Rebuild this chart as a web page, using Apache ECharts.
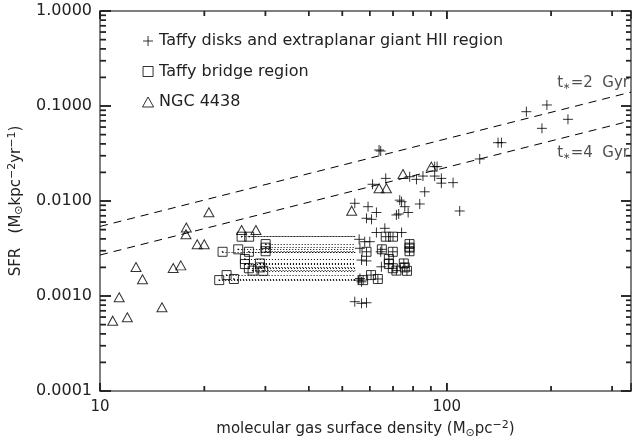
<!DOCTYPE html>
<html><head><meta charset="utf-8">
<script src="https://cdn.jsdelivr.net/npm/echarts@6/dist/echarts.min.js"></script>
<style>html,body{margin:0;padding:0;background:#fff}#c{width:635px;height:444px}</style>
</head><body><div id="c"></div>
<script>
// ---- data (Σ_gas in Msun/pc^2, SFR in Msun/kpc^2/yr) ----
const taffyDisks = [[169.7,0.0871],[194.5,0.1025],[188.2,0.0582],[223.7,0.0724],[140.6,0.0411],[143.8,0.0411],[124.5,0.0277],[63.8,0.0344],[64.5,0.0336],[66.7,0.0173],[61.1,0.0150],[78.2,0.0180],[81.8,0.0169],[85.4,0.0183],[92.3,0.0230],[93.8,0.0230],[92.3,0.0183],[96.5,0.0173],[96.5,0.0154],[104.3,0.0156],[86.4,0.0125],[73.2,0.0102],[74.1,0.00984],[75.7,0.00871],[77.4,0.00757],[71.6,0.00713],[72.7,0.00730],[83.6,0.00930],[109.0,0.00785],[54.3,0.00946],[59.3,0.00871],[62.7,0.00757],[58.7,0.00658],[60.7,0.00641],[66.3,0.00516],[62.7,0.00466],[74.1,0.00466],[55.9,0.00395],[58.0,0.00373],[60.0,0.00373],[56.2,0.00318],[64.5,0.00292],[56.8,0.00239],[58.7,0.00234],[64.8,0.00203],[56.2,0.00153],[56.8,0.00141],[55.5,0.00147],[54.3,0.000871],[56.8,0.000837],[58.7,0.000849]];
const bridgeY     = [0.00147,0.00292,0.00166,0.00151,0.00310,0.00421,0.00421,0.00292,0.00245,0.00217,0.00196,0.00185,0.00220,0.00184,0.00352,0.00296,0.00200,0.00323];
const bridgeLowX  = [22.07,22.57,23.18,24.33,25.04,25.61,26.93,26.88,26.18,26.18,26.88,27.55,28.92,29.56,30.04,30.04,29.0,30.04];
const bridgeHighX = [57.4,58.7,60.5,63.3,65.0,66.7,70.0,69.9,68.1,68.1,69.9,71.6,75.2,76.8,78.1,78.1,75.7,78.1];
const dottedEndX  = 54.5;
const ngc4438 = [[10.88,0.000550],[11.36,0.000971],[11.99,0.000597],[12.70,0.00202],[13.26,0.00150],[15.09,0.000760],[16.26,0.00197],[17.10,0.00210],[17.74,0.00526],[17.70,0.00446],[19.07,0.00351],[19.98,0.00351],[20.61,0.00760],[25.61,0.00495],[28.16,0.00495],[53.2,0.00791],[63.8,0.0136],[67.0,0.0136],[74.8,0.0192],[90.3,0.0230]];
const line2Gyr = [[10,0.0054],[340,0.14]];
const line4Gyr = [[10,0.0027],[340,0.07]];
const annotPos  = [[207.6,0.1745],[207.6,0.032]];
const annotText = ['2','4'];
const xRange = [10,340], yRange = [0.0001,1];
const xMajor = [10,100];
const xMinor = [20,30,40,50,60,70,80,90,200,300];
const yMajor = [0.0001,0.001,0.01,0.1,1];
const yMinor = [0.0002,0.0003,0.0004,0.0005,0.0006,0.0007,0.0008,0.0009,0.002,0.003,0.004,0.005,0.006,0.007,0.008,0.009,0.02,0.03,0.04,0.05,0.06,0.07,0.08,0.09,0.2,0.3,0.4,0.5,0.6,0.7,0.8,0.9];
const names = ['Taffy disks and extraplanar giant HII region','Taffy bridge region','NGC 4438'];

// ---- rendering ----
const L = v => Math.log10(v);
const P = d => [L(d[0]), L(d[1])];
const fam = 'DejaVu Sans', ink = '#000', axc = '#555', tkc = '#222', txt = '#222';
const plusPath = 'path://M0,5L10,5M5,0L5,10';
const sqPath = 'path://M0,0L10,0L10,10L0,10Z';
const sqDotPath = 'path://M0,0L10,0L10,10L0,10ZM4.6,4.6L5.4,4.6L5.4,5.4L4.6,5.4Z';
const sqCrossPath = 'path://M0,0L10,0L10,10L0,10ZM5,0L5,10M0,5L10,5';
const triPath = 'path://M5,0L10,9L0,9Z';
const hollow = {color:'transparent', borderColor:ink, borderWidth:1};

function ax(dim, pos, len, label) {
  const r = dim === 'x' ? xRange : yRange;
  const o = {type:'value', position:pos, min:L(r[0]), max:L(r[1]), interval:1,
    axisLine:{show:true, onZero:false, lineStyle:{color:axc, width:1.5}},
    axisTick:{show:true, inside:true, length:len, lineStyle:{color:tkc, width:1.5}},
    axisLabel:{show:false}, splitLine:{show:false}};
  if (label) Object.assign(o, label);
  return o;
}
const rich = {
  a:{fontSize:15, fontFamily:fam, color:txt},
  sub:{fontSize:11, fontFamily:fam, color:txt, padding:[7,0,0,0]},
  sup:{fontSize:11, fontFamily:fam, color:txt, padding:[0,0,8,0]}
};
const xLab = {
  axisLabel:{show:true, customValues:xMajor.map(L), formatter:v=>String(Math.round(Math.pow(10,v))), margin:9, fontSize:15, fontFamily:fam, color:txt},
  name:'{a|molecular gas surface density (M}{sub|⊙}{a|pc}{sup|−2}{a|)}',
  nameLocation:'middle', nameGap:29, nameTextStyle:{rich:rich}
};
const yLab = {
  axisLabel:{show:true, customValues:yMajor.map(L), formatter:v=>Math.pow(10,v).toFixed(4), margin:8, fontSize:16, fontFamily:fam, color:txt},
  name:'{a|SFR   (M}{sub|⊙}{a|kpc}{sup|−2}{a|yr}{sup|−1}{a|)}',
  nameLocation:'middle', nameRotate:90, nameGap:71, nameTextStyle:{rich:rich}
};
function tickMarks(points, size, offset) {
  return {type:'scatter', silent:true, clip:false, symbol:'rect', symbolSize:size, symbolOffset:offset,
    itemStyle:{color:tkc}, data:points, z:5};
}

const chart = echarts.init(document.getElementById('c'));
try {
chart.setOption({
  animation:false,
  backgroundColor:'#fff',
  grid:{left:100, right:4, top:11, bottom:53, outerBoundsMode:'none'},
  xAxis:[ax('x','bottom',8,xLab), ax('x','top',8)],
  yAxis:[ax('y','left',11,yLab), ax('y','right',10)],
  legend:{orient:'vertical', left:137, top:28, itemWidth:12, itemHeight:10, itemGap:14.5, selectedMode:false,
    textStyle:{fontSize:16, fontFamily:fam, color:txt},
    data:[{name:names[0], icon:plusPath, itemStyle:hollow},
          {name:names[1], icon:sqPath, itemStyle:hollow},
          {name:names[2], icon:triPath, itemStyle:hollow}]},
  series:[
    tickMarks(xMinor.map(v=>[L(v), L(yRange[0])]), [1.5,5], [0,-2.5]),
    tickMarks(xMinor.map(v=>[L(v), L(yRange[1])]), [1.5,5], [0,2.5]),
    tickMarks(yMinor.map(v=>[L(xRange[0]), L(v)]), [6,1.5], [3,0]),
    tickMarks(yMinor.map(v=>[L(xRange[1]), L(v)]), [5,1.5], [-2.5,0]),
    {type:'line', data:line2Gyr.map(P), symbol:'none', silent:true, lineStyle:{color:ink, width:1, type:[8,6]}},
    {type:'line', data:line4Gyr.map(P), symbol:'none', silent:true, lineStyle:{color:ink, width:1, type:[8,6]}},
    {type:'lines', coordinateSystem:'cartesian2d', silent:true,
      data:bridgeY.map((y,i)=>({coords:[P([bridgeLowX[i],y]), P([dottedEndX,y])]})),
      lineStyle:{color:ink, width:1, type:[1,2], opacity:1}},
    {type:'scatter', name:names[0], data:taffyDisks.map(P), symbol:plusPath, symbolSize:10, itemStyle:hollow},
    {type:'scatter', name:names[1], data:bridgeLowX.map((x,i)=>P([x,bridgeY[i]])), symbol:sqDotPath, symbolSize:9, itemStyle:hollow},
    {type:'scatter', name:names[1], data:bridgeHighX.map((x,i)=>P([x,bridgeY[i]])), symbol:sqCrossPath, symbolSize:9, itemStyle:hollow},
    {type:'scatter', name:names[2], data:ngc4438.map(P), symbol:triPath, symbolSize:[10,9], itemStyle:hollow},
    {type:'scatter', silent:true, data:annotPos.map(P), symbolSize:1, itemStyle:{color:'transparent'},
      label:{show:true, position:'right', distance:0,
        formatter:p=>'{t|t}{s|∗}{t|=' + annotText[p.dataIndex] + '  Gyr}',
        rich:{t:{fontSize:15, fontFamily:fam, color:txt}, s:{fontSize:9, fontFamily:fam, color:txt, padding:[8,0,0,0]}}}}
  ]
});
} catch (e) {}

// tick marks on all four sides, placed through the axes' own scales
try {
  const toPx = (x, y) => chart.convertToPixel({gridIndex:0}, [L(x), L(y)]);
  const eB = toPx(xRange[0], yRange[0]), eT = toPx(xRange[1], yRange[1]);
  const xl = eB[0], yb = eB[1], xr = eT[0], yt = eT[1];
  const els = [];
  const seg = (x1, y1, x2, y2) => els.push({type:'line', silent:true, z:50,
    shape:{x1:x1, y1:y1, x2:x2, y2:y2}, style:{stroke:tkc, lineWidth:1.5}});
  const cx = v => toPx(v, yRange[0])[0];
  const cy = v => toPx(xRange[0], v)[1];
  xMajor.forEach(v => { const x = cx(v); seg(x, yb, x, yb - 8); seg(x, yt, x, yt + 8); });
  xMinor.forEach(v => { const x = cx(v); seg(x, yb, x, yb - 5); seg(x, yt, x, yt + 5); });
  yMajor.forEach(v => { const y = cy(v); seg(xl, y, xl + 11, y); seg(xr, y, xr - 10, y); });
  yMinor.forEach(v => { const y = cy(v); seg(xl, y, xl + 6, y); seg(xr, y, xr - 5, y); });
  chart.setOption({graphic:{elements:els}});
} catch (e) {}
</script></body></html>
